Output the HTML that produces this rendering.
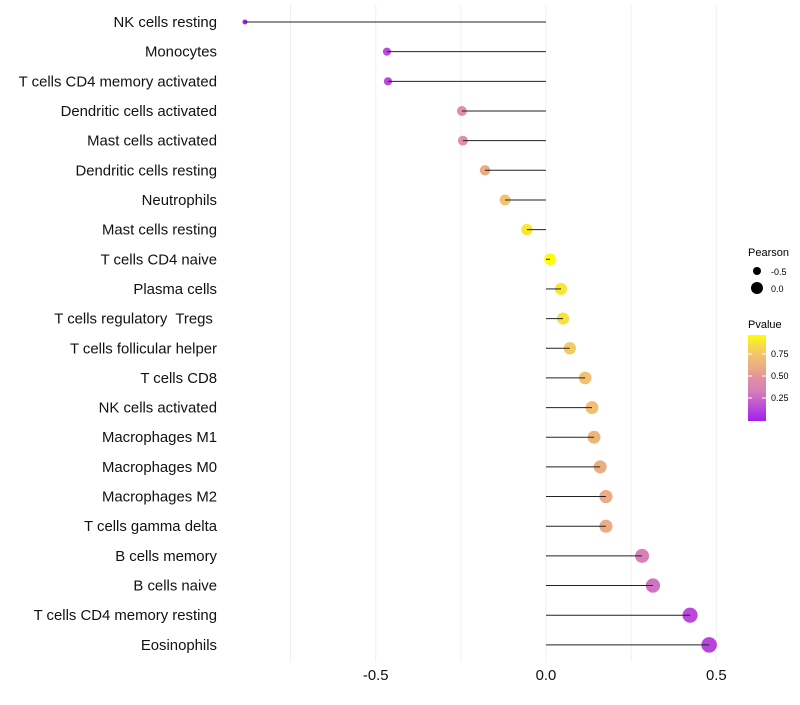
<!DOCTYPE html>
<html><head><meta charset="utf-8"><style>
body{margin:0;background:#fff;font-family:"Liberation Sans",sans-serif}
svg text{font-family:"Liberation Sans",sans-serif}
</style></head><body>
<svg id="chart" width="800" height="700">
<defs><linearGradient id="pg" x1="0" y1="1" x2="0" y2="0">
<stop offset="0" stop-color="#A020F0"/><stop offset="0.15" stop-color="#BA48DA"/><stop offset="0.35" stop-color="#D680B8"/><stop offset="0.5" stop-color="#E090A0"/><stop offset="0.6" stop-color="#EAA888"/><stop offset="0.75" stop-color="#F2C070"/><stop offset="0.9" stop-color="#F8E040"/><stop offset="1" stop-color="#FFFF00"/></linearGradient></defs>
<g id="grid"></g>
<g id="dots"></g>
<g id="marks"></g>
<g id="ylabels"></g>
<g id="xlabels"></g>
<g>
<text x="748" y="256" font-size="11" fill="#000">Pearson</text>
<circle cx="757" cy="271" r="4" fill="#000"/>
<text x="771" y="275" font-size="9" fill="#000">-0.5</text>
<circle cx="757" cy="288" r="6" fill="#000"/>
<text x="771" y="292" font-size="9" fill="#000">0.0</text>
</g>
<g>
<text x="748" y="328" font-size="11" fill="#000">Pvalue</text>
<rect x="748" y="335" width="18" height="86" fill="url(#pg)"/>
<g stroke="#fff" stroke-width="1"><line x1="748" x2="752" y1="354" y2="354"/><line x1="762" x2="766" y1="354" y2="354"/><line x1="748" x2="752" y1="376" y2="376"/><line x1="762" x2="766" y1="376" y2="376"/><line x1="748" x2="752" y1="398" y2="398"/><line x1="762" x2="766" y1="398" y2="398"/></g>
<text x="771" y="357" font-size="9">0.75</text><text x="771" y="379" font-size="9">0.50</text><text x="771" y="401" font-size="9">0.25</text>
</g>
</svg>
<script>
const categories=["NK cells resting","Monocytes","T cells CD4 memory activated","Dendritic cells activated","Mast cells activated","Dendritic cells resting","Neutrophils","Mast cells resting","T cells CD4 naive","Plasma cells","T cells regulatory\u00a0 Tregs\u00a0","T cells follicular helper","T cells CD8","NK cells activated","Macrophages M1","Macrophages M0","Macrophages M2","T cells gamma delta","B cells memory","B cells naive","T cells CD4 memory resting","Eosinophils"];
const pearson=[-0.884,-0.467,-0.464,-0.247,-0.244,-0.179,-0.12,-0.056,0.012,0.044,0.05,0.07,0.115,0.135,0.141,0.159,0.176,0.176,0.282,0.314,0.423,0.479];
const pvalue=[0.01,0.15,0.15,0.5,0.5,0.62,0.76,0.92,0.99,0.92,0.9,0.8,0.75,0.74,0.68,0.63,0.62,0.62,0.36,0.3,0.15,0.14];
const xTicks=[-0.5,0.0,0.5];
const xTickLabels=["-0.5","0.0","0.5"];
const gridVals=[-0.75,-0.5,-0.25,0,0.25,0.5,0.75];
const NS="http://www.w3.org/2000/svg";
const x=v=>546+v*340.6;
const y=i=>22+i*29.66;
const stops=[[0,[160,32,240]],[0.15,[186,72,218]],[0.35,[214,128,184]],[0.5,[224,144,160]],[0.6,[234,168,136]],[0.75,[242,192,112]],[0.9,[248,224,64]],[1,[255,255,0]]];
function col(p){for(let k=1;k<stops.length;k++){if(p<=stops[k][0]){const a=stops[k-1],b=stops[k];const t=(p-a[0])/(b[0]-a[0]);return "rgb("+a[1].map((c,j)=>Math.round(c+(b[1][j]-c)*t)).join(",")+")";}}return "rgb(255,255,0)";}
const rad=v=>Math.max(1.5,5.9+3.9*v);
function mk(t,a,p){const e=document.createElementNS(NS,t);for(const k in a)e.setAttribute(k,a[k]);p.appendChild(e);return e;}
const grid=document.getElementById('grid'),dots=document.getElementById('dots'),marks=document.getElementById('marks'),yl=document.getElementById('ylabels'),xl=document.getElementById('xlabels');
gridVals.forEach(g=>{const l=mk('line',{x1:x(g),x2:x(g),y1:5,y2:662,stroke:'#f0f0f0','stroke-width':1},grid);

});
categories.forEach((c,i)=>{
const d=mk('circle',{cx:x(pearson[i]),cy:y(i),r:rad(pearson[i]),fill:col(pvalue[i])},dots);


const l=mk('line',{x1:x(0),x2:x(pearson[i]),y1:y(i),y2:y(i),stroke:'#222','stroke-width':1},marks);


const t=mk('text',{x:217,y:y(i)+5,'text-anchor':'end','font-size':14.9,fill:'#111'},yl);t.textContent=c;


});
xTicks.forEach((v,i)=>{const t=mk('text',{x:x(v),y:680,'text-anchor':'middle','font-size':14.9,fill:'#111'},xl);t.textContent=xTickLabels[i];

});
</script>
</body></html>
